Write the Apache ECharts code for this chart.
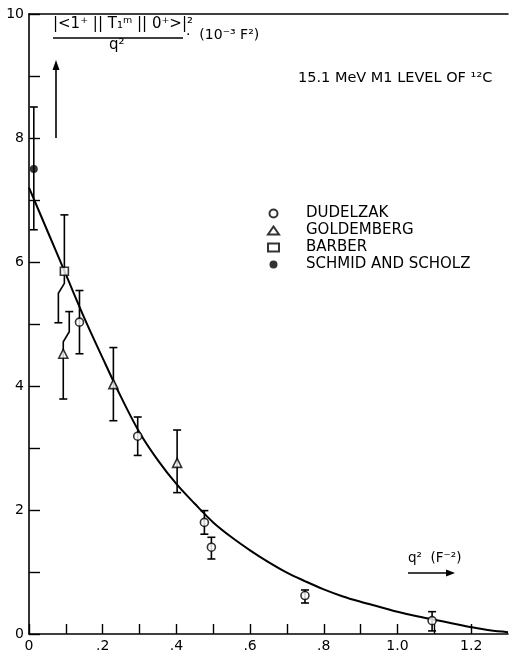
<!DOCTYPE html>
<html>
<head>
<meta charset="utf-8">
<script src="https://cdn.jsdelivr.net/npm/echarts@6/dist/echarts.min.js"></script>
<style>
  html, body { margin: 0; padding: 0; background: #fff; }
  #chart { width: 515px; height: 656px; }
</style>
</head>
<body>
<div id="chart"></div>
<script>
// ---- data ----
const curveQ2  = [0, 0.05, 0.1, 0.15, 0.2, 0.25, 0.3, 0.35, 0.4, 0.45, 0.5, 0.55, 0.6, 0.65, 0.7, 0.75, 0.8, 0.85, 0.9, 0.95, 1.0, 1.05, 1.1, 1.15, 1.2, 1.25, 1.3];
const curveVal = [7.2, 6.5, 5.8, 5.1, 4.45, 3.82, 3.25, 2.8, 2.42, 2.1, 1.8, 1.56, 1.35, 1.16, 0.99, 0.85, 0.72, 0.61, 0.52, 0.44, 0.36, 0.29, 0.23, 0.17, 0.11, 0.06, 0.03];

const dudelzakQ2   = [0.137, 0.295, 0.476, 0.495, 0.749, 1.094];
const dudelzakVal  = [5.03, 3.19, 1.80, 1.40, 0.62, 0.215];
const dudelzakLow  = [4.52, 2.88, 1.61, 1.21, 0.50, 0.05];
const dudelzakHigh = [5.54, 3.50, 1.99, 1.56, 0.71, 0.36];

const goldQ2   = [0.093, 0.229, 0.402];
const goldVal  = [4.52, 4.03, 2.76];
const goldLow  = [3.79, 3.44, 2.28];
const goldHigh = [5.20, 4.62, 3.29];

const barberQ2   = [0.096];
const barberVal  = [5.85];
const barberLow  = [5.02];
const barberHigh = [6.76];

const schmidQ2   = [0.013];
const schmidVal  = [7.5];
const schmidLow  = [6.52];
const schmidHigh = [8.5];

const yTickLabels = ['0', '2', '4', '6', '8', '10'];
const xTickLabels = ['0', '.2', '.4', '.6', '.8', '1.0', '1.2'];

const seriesNames = ['DUDELZAK', 'GOLDEMBERG', 'BARBER', 'SCHMID AND SCHOLZ'];

// ---- build ----
const zip2 = (a, b) => a.map((v, i) => [v, b[i]]);
const zip4 = (a, b, c, d) => a.map((v, i) => [v, b[i], c[i], d[i]]);

const FONT = 'DejaVu Sans';

// drawing style: some bars in the original are drawn with a small sideways jog
function makeErrRender(jog) {
  return function (params, api) {
    const x = api.value(0);
    const lo = api.coord([x, api.value(1)]);
    const mid = api.coord([x, api.value(2)]);
    const hi = api.coord([x, api.value(3)]);
    const cap = 4;
    const st = { stroke: '#000', lineWidth: 1.6, fill: null };
    const kids = [];
    const j = jog && jog.index === params.dataIndex ? jog : null;
    function segment(end, side) {
      if (j && j.side === side) {
        const dir = end[1] > mid[1] ? 1 : -1;
        const y1 = mid[1] + dir * 12;
        const y2 = mid[1] + dir * 22;
        kids.push({ type: 'polyline', shape: { points: [[mid[0], mid[1]], [mid[0], y1], [mid[0] + j.dx, y2], [mid[0] + j.dx, end[1]]] }, style: st });
        kids.push({ type: 'line', shape: { x1: mid[0] + j.dx - cap, y1: end[1], x2: mid[0] + j.dx + cap, y2: end[1] }, style: st });
      } else {
        kids.push({ type: 'line', shape: { x1: mid[0], y1: mid[1], x2: end[0], y2: end[1] }, style: st });
        kids.push({ type: 'line', shape: { x1: end[0] - cap, y1: end[1], x2: end[0] + cap, y2: end[1] }, style: st });
      }
    }
    segment(lo, 'low');
    segment(hi, 'high');
    return { type: 'group', children: kids };
  };
}

function errSeries(q, lo, v, hi, jog) {
  return {
    type: 'custom', renderItem: makeErrRender(jog), data: zip4(q, lo, v, hi),
    encode: { x: 0, y: [1, 3] }, z: 3, silent: true
  };
}

const openStyle = { color: '#fff', borderColor: '#000', borderWidth: 1.6 };

const chart = echarts.init(document.getElementById('chart'), null, { renderer: 'canvas' });

chart.setOption({
  backgroundColor: '#fff',
  animation: false,
  textStyle: { fontFamily: FONT, color: '#000' },
  grid: { left: 29, right: 7, top: 14, bottom: 22, containLabel: false },
  xAxis: [{
    type: 'value', min: 0, max: 1.3, interval: 0.1,
    axisLine: { lineStyle: { color: '#000', width: 1.6 } },
    axisTick: { inside: true, length: 10, lineStyle: { color: '#000', width: 1.4 } },
    splitLine: { show: false },
    axisLabel: {
      color: '#000', fontSize: 14, fontFamily: FONT, margin: 5, showMaxLabel: false,
      formatter: function (v) {
        const k = Math.round(v * 10);
        if (k % 2 !== 0) return '';
        return xTickLabels[k / 2] || '';
      }
    }
  }, {
    type: 'value', position: 'top', min: 0, max: 1.3,
    axisLine: { show: true, onZero: false, lineStyle: { color: '#000', width: 1.6 } },
    axisTick: { show: false }, axisLabel: { show: false }, splitLine: { show: false }
  }],
  yAxis: {
    type: 'value', min: 0, max: 10, interval: 1,
    axisLine: { show: true, lineStyle: { color: '#000', width: 1.6 } },
    axisTick: { show: true, inside: true, length: 11, lineStyle: { color: '#000', width: 1.4 } },
    splitLine: { show: false },
    axisLabel: {
      color: '#000', fontSize: 14, fontFamily: FONT, margin: 5,
      formatter: function (v) {
        const k = Math.round(v);
        if (k % 2 !== 0) return '';
        return yTickLabels[k / 2];
      }
    }
  },
  legend: {
    data: seriesNames,
    orient: 'vertical',
    left: 267, top: 205, padding: 0,
    itemWidth: 11, itemHeight: 8, itemGap: 0,
    textStyle: { fontFamily: FONT, fontSize: 15, color: '#000', padding: [0, 0, 0, 22], lineHeight: 17 },
    selectedMode: false
  },
  series: [
    {
      name: 'fit', type: 'line', data: zip2(curveQ2, curveVal), smooth: 0.35,
      showSymbol: false, lineStyle: { color: '#000', width: 2 }, z: 2, silent: true
    },
    errSeries(dudelzakQ2, dudelzakLow, dudelzakVal, dudelzakHigh, null),
    errSeries(goldQ2, goldLow, goldVal, goldHigh, { index: 0, side: 'high', dx: 6 }),
    errSeries(barberQ2, barberLow, barberVal, barberHigh, { index: 0, side: 'low', dx: -6 }),
    errSeries(schmidQ2, schmidLow, schmidVal, schmidHigh, null),
    {
      name: 'DUDELZAK', type: 'scatter', data: zip2(dudelzakQ2, dudelzakVal),
      symbol: 'circle', symbolSize: 8, itemStyle: openStyle, z: 5
    },
    {
      name: 'GOLDEMBERG', type: 'scatter', data: zip2(goldQ2, goldVal),
      symbol: 'triangle', symbolSize: 9, itemStyle: openStyle, z: 5
    },
    {
      name: 'BARBER', type: 'scatter', data: zip2(barberQ2, barberVal),
      symbol: 'rect', symbolSize: 8, itemStyle: openStyle, z: 5
    },
    {
      name: 'SCHMID AND SCHOLZ', type: 'scatter', data: zip2(schmidQ2, schmidVal),
      symbol: 'circle', symbolSize: 8, itemStyle: { color: '#000' }, z: 5
    }
  ],
  graphic: [
    // y quantity label (fraction)
    { type: 'text', left: 53, top: 17,
      style: { text: '|<1⁺ || T₁ᵐ || 0⁺>|²', font: '15px "DejaVu Sans"', fill: '#000' } },
    { type: 'line', shape: { x1: 53, y1: 38, x2: 183, y2: 38 }, style: { stroke: '#000', lineWidth: 1.4 } },
    { type: 'text', left: 109, top: 38,
      style: { text: 'q²', font: '15px "DejaVu Sans"', fill: '#000' } },
    { type: 'text', left: 186, top: 28,
      style: { text: '·  (10⁻³ F²)', font: '14px "DejaVu Sans"', fill: '#000' } },
    // up arrow
    { type: 'line', shape: { x1: 56, y1: 138, x2: 56, y2: 66 }, style: { stroke: '#000', lineWidth: 1.6 } },
    { type: 'polygon', shape: { points: [[56, 60], [52.5, 70], [59.5, 70]] }, style: { fill: '#000' } },
    // title
    { type: 'text', left: 298, top: 71,
      style: { text: '15.1 MeV M1 LEVEL OF ¹²C', font: '14.5px "DejaVu Sans"', fill: '#000' } },
    // x quantity label
    { type: 'text', left: 408, top: 551,
      style: { text: 'q²  (F⁻²)', font: '13.5px "DejaVu Sans"', fill: '#000' } },
    { type: 'line', shape: { x1: 408, y1: 573, x2: 448, y2: 573 }, style: { stroke: '#000', lineWidth: 1.4 } },
    { type: 'polygon', shape: { points: [[455, 573], [446, 569.5], [446, 576.5]] }, style: { fill: '#000' } }
  ]
});
</script>
</body>
</html>
